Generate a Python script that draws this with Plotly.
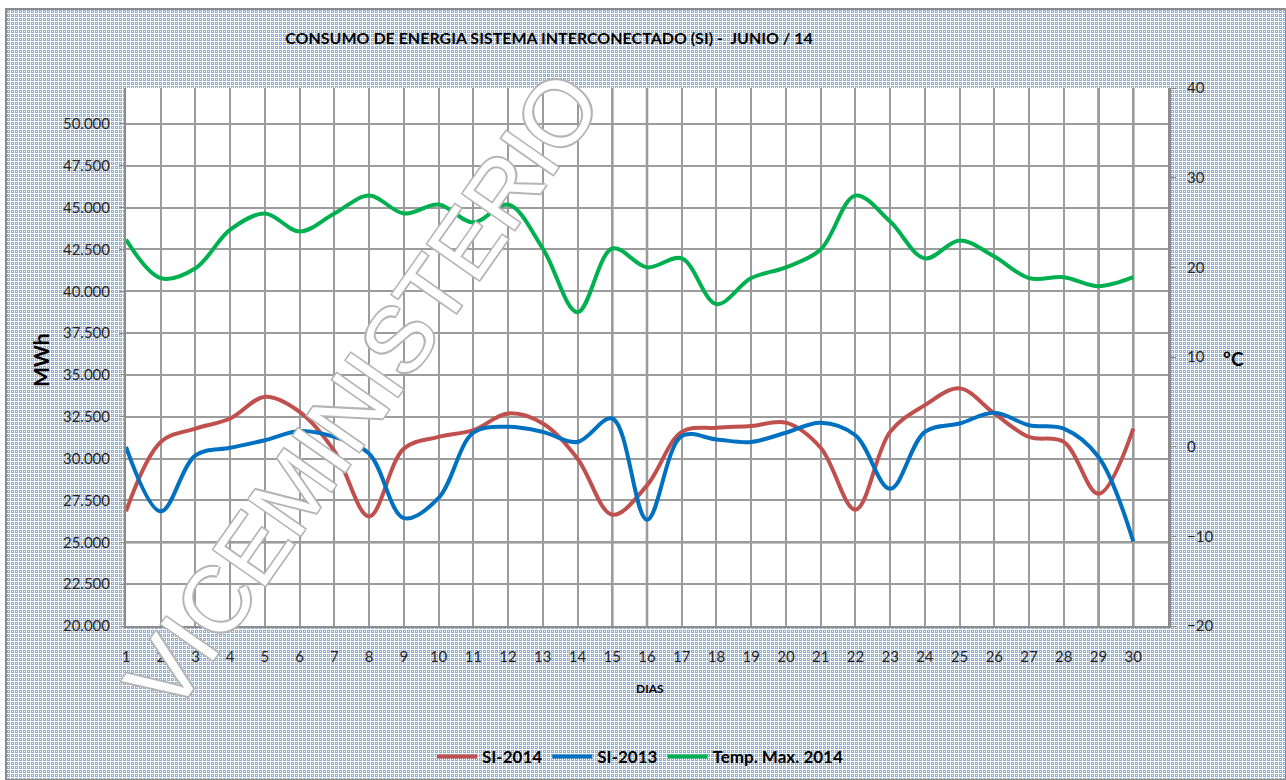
import base64

import plotly.graph_objects as go


# ------------------------------------------------------------
# Data
# ------------------------------------------------------------

dias = list(range(1, 31))

si_2014 = [26850, 31000, 31800, 32400, 33700, 32800, 30450, 26550, 30600, 31300,
           31700, 32700, 32100, 30000, 26650, 28400, 31600, 31850, 31950, 32150,
           30650, 26950, 31600, 33200, 34200, 32700, 31300, 31000, 27900, 31800]

si_2013 = [30700, 26850, 30200, 30650, 31100, 31650, 31300, 30300, 26450, 27650,
           31550, 31900, 31600, 31000, 32400, 26350, 31350, 31150, 31000, 31550,
           32150, 31400, 28200, 31600, 32100, 32750, 32000, 31800, 30100, 25050]

temp_max = [23.1, 18.8, 19.9, 24.2, 26.0, 24.0, 26.0, 28.0, 26.0, 27.0,
            25.0, 27.0, 22.1, 15.0, 22.1, 20.0, 21.0, 15.9, 18.8, 20.0,
            22.0, 28.0, 25.1, 21.0, 23.0, 21.2, 18.8, 18.9, 17.9, 18.9]

mwh_ticks = list(range(20000, 50001, 2500))
temp_ticks = [-20, -10, 0, 10, 20, 30, 40]

# gridlines that look heavier in the original
dark_days = [15, 16, 29, 30]

TITLE = "CONSUMO DE ENERGIA SISTEMA INTERCONECTADO (SI) -  JUNIO / 14"
FONT = "Lato"

# ------------------------------------------------------------
# Patterned chart-area background (Excel style)
# ------------------------------------------------------------

W, H = 1286, 780
L, R, T, B = 126, 1168, 88, 626
BOX = (6, 9, 1286, 780)

svg = (
    "<svg xmlns='http://www.w3.org/2000/svg' width='1280' height='771'>"
    "<defs><pattern id='p' width='4' height='4' patternUnits='userSpaceOnUse'>"
    "<rect width='4' height='4' fill='#8aaedf'/>"
    "<rect width='4' height='1' fill='#ffffff'/>"
    "<rect width='1' height='4' fill='#ffffff'/>"
    "<rect x='2' y='2' width='1' height='1' fill='#ffffff'/>"
    "</pattern></defs>"
    "<rect width='1280' height='771' fill='url(#p)'/></svg>"
)
pattern_uri = "data:image/svg+xml;base64," + base64.b64encode(svg.encode()).decode()


def px(x):
    return (x - L) / (R - L)


def py(y):
    return (B - y) / (B - T)


# ------------------------------------------------------------
# Figure
# ------------------------------------------------------------

fig = go.Figure()

fig.add_trace(go.Scatter(
    x=dias, y=si_2014, name="SI-2014", mode="lines",
    line=dict(color="#c0504d", width=4, shape="spline", smoothing=1.0),
))

fig.add_trace(go.Scatter(
    x=dias, y=si_2013, name="SI-2013", mode="lines",
    line=dict(color="#0070c0", width=4, shape="spline", smoothing=1.0),
))

fig.add_trace(go.Scatter(
    x=dias, y=temp_max, name="Temp. Max. 2014", mode="lines", yaxis="y2",
    line=dict(color="#00b050", width=4, shape="spline", smoothing=1.0),
))

# background pattern + white plot area on top of it
fig.add_layout_image(
    source=pattern_uri, xref="paper", yref="paper",
    x=px(BOX[0]), y=py(BOX[1]),
    sizex=px(BOX[2]) - px(BOX[0]), sizey=py(BOX[1]) - py(BOX[3]),
    xanchor="left", yanchor="top", sizing="stretch", layer="below",
)
fig.add_shape(type="rect", xref="paper", yref="paper", x0=0, x1=1, y0=0, y1=1,
              fillcolor="white", line_width=0, layer="below")
fig.add_shape(type="rect", xref="paper", yref="paper",
              x0=px(BOX[0]), x1=px(BOX[2]), y0=py(BOX[3]), y1=py(BOX[1]),
              line=dict(color="#8c8c8c", width=2), fillcolor="rgba(0,0,0,0)",
              layer="below")

for d in dark_days:
    fig.add_shape(type="line", xref="x", yref="paper", x0=d, x1=d, y0=0, y1=1,
                  line=dict(color="#8a8a8a", width=2.5), layer="below")
fig.add_shape(type="line", xref="paper", yref="y", x0=0, x1=1, y0=25000, y1=25000,
              line=dict(color="#8a8a8a", width=2.5), layer="below")

# ------------------------------------------------------------
# Annotations
# ------------------------------------------------------------

fig.add_annotation(
    text="<b>MWh</b>", xref="paper", yref="paper", x=px(40), y=py(360),
    xanchor="center", yanchor="middle",
    showarrow=False, textangle=-90,
    font=dict(family=FONT, size=21, color="black"),
)
fig.add_annotation(
    text="<b>°C</b>", xref="paper", yref="paper", x=px(1233), y=py(358),
    xanchor="center", yanchor="middle",
    showarrow=False, font=dict(family=FONT, size=19, color="black"),
)
fig.add_annotation(
    text="<b>DIAS</b>", xref="paper", yref="paper", x=px(650), y=py(688),
    xanchor="center", yanchor="middle",
    showarrow=False, font=dict(family=FONT, size=12, color="black"),
)

# watermark
outline = "#b4b4b4"
fig.add_annotation(
    text="VICEMINISTERIO", xref="paper", yref="paper", x=px(362), y=py(392),
    xanchor="center", yanchor="middle",
    showarrow=False, textangle=-55,
    font=dict(
        family="Liberation Sans", size=92, color="white",
        shadow=(f"1.5px 1.5px 0 {outline}, -1.5px -1.5px 0 {outline}, "
                f"1.5px -1.5px 0 {outline}, -1.5px 1.5px 0 {outline}"),
    ),
)

# ------------------------------------------------------------
# Layout
# ------------------------------------------------------------

fig.update_layout(
    width=W,
    height=H,
    margin=dict(l=L, r=W - R, t=T, b=H - B, autoexpand=False),
    paper_bgcolor="white",
    plot_bgcolor="white",
    separators=",.",
    font=dict(family=FONT, size=14, color="#262626"),
    title=dict(
        text=f"<b>{TITLE}</b>", x=px(549), xref="paper", xanchor="center",
        y=1 - 38 / H, yanchor="middle",
        font=dict(family=FONT, size=16, color="black"),
    ),
    showlegend=True,
    legend=dict(
        orientation="h", x=px(640), xanchor="center", y=py(757), yanchor="middle",
        bgcolor="rgba(0,0,0,0)",
        font=dict(family=FONT, size=17, color="black", weight="bold"),
        itemwidth=40,
    ),
    xaxis=dict(
        range=[1, 31],
        tickvals=dias,
        showgrid=True, gridcolor="#9c9c9c", gridwidth=1.5,
        showline=True, linecolor="#8c8c8c", linewidth=2,
        ticks="", ticklabelstandoff=16,
        zeroline=False,
        tickfont=dict(size=15),
    ),
    yaxis=dict(
        range=[20000, 52150],
        tickvals=mwh_ticks,
        tickformat=",.0f",
        showgrid=True, gridcolor="#9c9c9c", gridwidth=1.5,
        showline=True, linecolor="#8c8c8c", linewidth=2,
        ticks="outside", ticklen=5, tickcolor="#8c8c8c",
        ticklabelstandoff=6,
        zeroline=False,
        tickfont=dict(size=15),
    ),
    yaxis2=dict(
        range=[-20, 40],
        tickvals=temp_ticks,
        overlaying="y", side="right",
        showgrid=False, zeroline=False,
        showline=True, linecolor="#8c8c8c", linewidth=3,
        ticks="outside", ticklen=5, tickcolor="#8c8c8c",
        ticklabelstandoff=8,
        tickfont=dict(size=15),
    ),
)

fig.write_html(
    "out.html",
    config={"displayModeBar": False},
    post_script="document.body.style.margin = '0';",
)
